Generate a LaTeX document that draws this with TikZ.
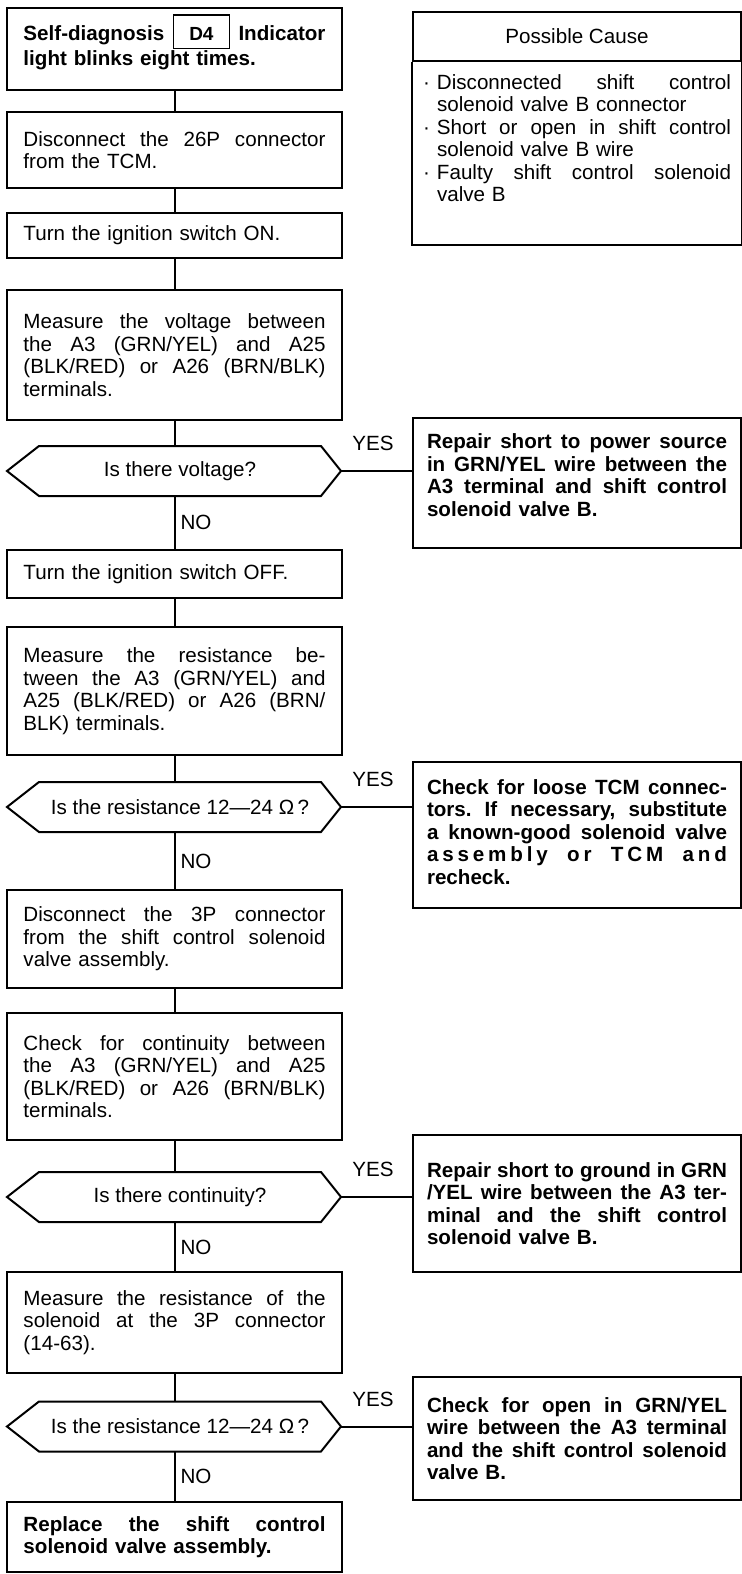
\documentclass[tikz,border=0pt]{standalone}
\usepackage{fontspec}
\setmainfont{Liberation Sans}
\usetikzlibrary{calc}
\newcommand\fullline[1]{{\spaceskip=0pt\relax\xspaceskip=0pt\relax\makebox[\linewidth][s]{#1}}}
\newcommand\dfbox[1]{{\setlength\fboxsep{0pt}\setlength\fboxrule{0.6pt}\fbox{\rule[-3.5pt]{0pt}{16pt}\hspace{7.5pt}{\fontsize{9.5pt}{10pt}\selectfont #1}\hspace{7.5pt}}}}
\newcommand\bitem[2]{\makebox[7pt][l]{·}{\spaceskip=0pt\relax\xspaceskip=0pt\relax\makebox[\dimexpr\linewidth-7pt\relax][s]{#1}}\\\hspace*{7pt}#2}
\newcommand\lowpad[1]{\rule[-#1]{0pt}{0pt}}
\newcommand\hexout[1]{\draw (#1.north west) -- (#1.north east) -- ($(#1.east)+(20,0)$) coordinate (#1r) -- (#1.south east) -- (#1.south west) -- ($(#1.west)+(-32,0)$) -- cycle;}
\begin{document}
\begin{tikzpicture}[x=0.5pt,y=-0.5pt,line width=1pt,
  txt/.style={font=\fontsize{10.3pt}{11.25pt}\selectfont\frenchspacing},
  btxt/.style={font=\fontsize{10.3pt}{11.25pt}\selectfont\bfseries\frenchspacing},
  lbox/.style={draw,rectangle,txt,text width=151pt,inner xsep=8.25pt,inner ysep=0pt,align=left},
  rbox/.style={draw,rectangle,txt,text width=150pt,inner xsep=7pt,inner ysep=0pt,align=left},
  hexn/.style={txt,minimum width=140pt,minimum height=24pt,inner sep=0pt},
  lab/.style={txt,inner sep=0pt}]
\fill[white] (0,0) rectangle (742,1574);
\useasboundingbox (0,0) rectangle (742,1574);

% left column
\node[lbox,btxt,minimum height=41pt] (b1) at (174.5,49) {\fullline{Self-diagnosis \dfbox{D4} Indicator}\\light blinks eight times.\lowpad{9pt}};
\node[lbox,minimum height=38pt] (b2) at (174.5,150) {\fullline{Disconnect the 26P connector}\\from the TCM.};
\node[lbox,minimum height=22.5pt] (b3) at (174.5,235.5) {Turn the ignition switch ON.};
\node[lbox,minimum height=65pt] (b4) at (174.5,355) {\fullline{Measure the voltage between}\\\fullline{the A3 (GRN/YEL) and A25}\\\fullline{(BLK/RED) or A26 (BRN/BLK)}\\terminals.};
\node[hexn] (h1) at (180,471) {Is there voltage?};
\hexout{h1}
\node[lbox,minimum height=24pt] (b5) at (174.5,574) {Turn the ignition switch OFF.};
\node[lbox,minimum height=64pt] (b6) at (174.5,691) {\fullline{Measure the resistance be-}\\\fullline{tween the A3 (GRN/YEL) and}\\\fullline{A25 (BLK/RED) or A26 (BRN/}\\BLK) terminals.};
\node[hexn] (h2) at (180,807) {Is the resistance 12—24 Ω\,?};
\hexout{h2}
\node[lbox,minimum height=49pt] (b7) at (174.5,939) {\fullline{Disconnect the 3P connector}\\\fullline{from the shift control solenoid}\\valve assembly.};
\node[lbox,minimum height=63.5pt] (b8) at (174.5,1076.5) {\fullline{Check for continuity between}\\\fullline{the A3 (GRN/YEL) and A25}\\\fullline{(BLK/RED) or A26 (BRN/BLK)}\\terminals.};
\node[hexn] (h3) at (180,1197) {Is there continuity?};
\hexout{h3}
\node[lbox,minimum height=50.5pt] (b9) at (174.5,1322.5) {\fullline{Measure the resistance of the}\\\fullline{solenoid at the 3P connector}\\(14-63).};
\node[hexn] (h4) at (180,1426.5) {Is the resistance 12—24 Ω\,?};
\hexout{h4}
\node[lbox,btxt,minimum height=35pt] (b10) at (174.5,1537) {\fullline{Replace the shift control}\\solenoid valve assembly.};

% right column
\node[draw,rectangle,txt,minimum width=164pt,minimum height=24.5pt,inner sep=0pt] (pch) at (577,36) {Possible Cause};
\node[txt,text width=154pt,inner xsep=5pt,inner ysep=6pt,anchor=north,align=left] (pcl) at (pch.south) {\bitem{Disconnected shift control}{solenoid valve B connector}\\\bitem{Short or open in shift control}{solenoid valve B wire}\\\bitem{Faulty shift control solenoid}{valve B}};
\coordinate (pcbot) at (577,245);
\draw (pch.south west) -- (pch.south west |- pcbot) -- (pch.south east |- pcbot) -- (pch.south east);
\node[rbox,btxt,minimum height=65pt] (r1) at (577,483) {\fullline{Repair short to power source}\\\fullline{in GRN/YEL wire between the}\\\fullline{A3 terminal and shift control}\\solenoid valve B.\lowpad{8pt}};
\node[rbox,btxt,minimum height=73pt] (r2) at (577,835) {\fullline{Check for loose TCM connec-}\\\fullline{tors. If necessary, substitute}\\\fullline{a known-good solenoid valve}\\\makebox[\linewidth][s]{a\hfil s\hfil s\hfil e\hfil m\hfil b\hfil l\hfil y\hskip 0pt plus 5fil o\hfil r\hskip 0pt plus 5fil T\hfil C\hfil M\hskip 0pt plus 5fil a\hfil n\hfil d}\\recheck.\lowpad{3pt}};
\node[rbox,btxt,minimum height=68.5pt] (r3) at (577,1203.5) {\fullline{Repair short to ground in GRN}\\\fullline{/YEL wire between the A3 ter-}\\\fullline{minal and the shift control}\\solenoid valve B.};
\node[rbox,btxt,minimum height=61.5pt] (r4) at (577,1438.5) {\fullline{Check for open in GRN/YEL}\\\fullline{wire between the A3 terminal}\\\fullline{and the shift control solenoid}\\valve B.};

% connectors
\draw (b1.south) -- (b2.north);
\draw (b2.south) -- (b3.north);
\draw (b3.south) -- (b4.north);
\draw (b4.south) -- (b4.south |- h1.north);
\draw (h1.south -| b5.north) -- (b5.north);
\draw (b5.south) -- (b6.north);
\draw (b6.south) -- (b6.south |- h2.north);
\draw (h2.south -| b7.north) -- (b7.north);
\draw (b7.south) -- (b8.north);
\draw (b8.south) -- (b8.south |- h3.north);
\draw (h3.south -| b9.north) -- (b9.north);
\draw (b9.south) -- (b9.south |- h4.north);
\draw (h4.south -| b10.north) -- (b10.north);
\draw (h1r) -- (h1r -| r1.west);
\draw (h2r) -- (h2r -| r2.west);
\draw (h3r) -- (h3r -| r3.west);
\draw (h4r) -- (h4r -| r4.west);

% labels
\node[lab] (y1) at (373,443) {YES};
\node[lab] (y2) at (373,779) {YES};
\node[lab] (y3) at (373,1169) {YES};
\node[lab] (y4) at (373,1399) {YES};
\node[lab] (n1) at (196,522) {NO};
\node[lab] (n2) at (196,861) {NO};
\node[lab] (n3) at (196,1247) {NO};
\node[lab] (n4) at (196,1476) {NO};
\end{tikzpicture}
\end{document}
